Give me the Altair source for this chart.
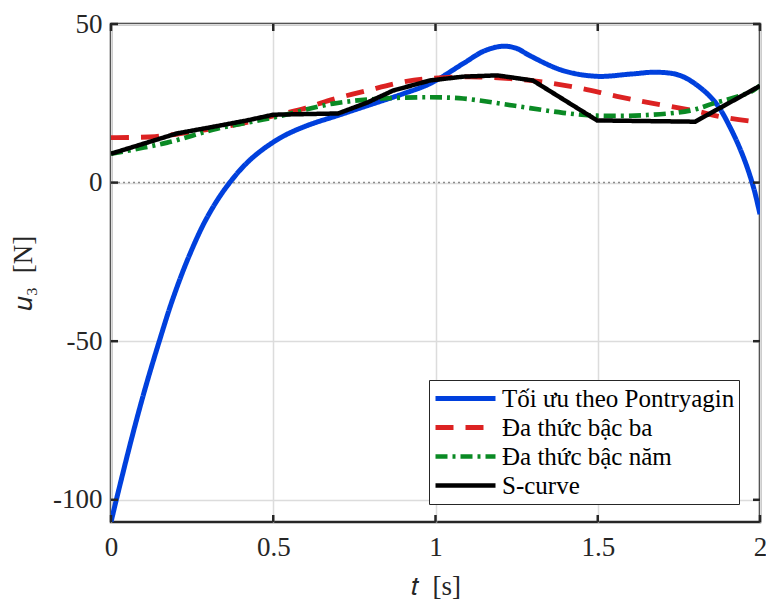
import altair as alt
import pandas as pd

# ---- data ----
series_names = ["Tối ưu theo Pontryagin", "Đa thức bậc ba", "Đa thức bậc năm", "S-curve"]

blue_t = [0, 0.02, 0.064, 0.105, 0.15, 0.19, 0.24, 0.295, 0.357, 0.43, 0.52, 0.6, 0.7, 0.8,
          0.9, 0.983, 1.085, 1.15, 1.208, 1.25, 1.291, 1.393, 1.498, 1.6, 1.683, 1.753,
          1.815, 1.866, 1.908, 1.949, 1.98, 2.0]
blue_u = [-107, -98.5, -80.5, -65, -49.6, -36.8, -23.3, -11.2, -1.2, 7.3, 14, 17.8, 21.2,
          24.6, 28, 31.2, 37.5, 41.5, 43, 42.3, 40, 35.3, 33.5, 34.2, 34.8, 33.8,
          30, 24.8, 17.4, 8, -1.5, -10]

red_t = [0, 0.136, 0.274, 0.4, 0.5, 0.6, 0.675, 0.789, 0.89, 0.977, 1.137, 1.291, 1.436,
         1.559, 1.67, 1.806, 1.877, 2.0]
red_u = [14.2, 14.5, 16.4, 18.6, 21, 23.5, 26, 29, 31.5, 32.8, 33.3, 32.2, 30,
         27.2, 25, 22.5, 20.8, 19]

green_t = [0, 0.173, 0.327, 0.5, 0.684, 0.838, 0.983, 1.085, 1.239, 1.393, 1.498, 1.652,
           1.784, 1.855, 1.969, 2.0]
green_u = [9.1, 12.6, 17, 20.5, 24.9, 26.5, 26.9, 26.5, 24.3, 22, 21.1, 21.3,
           22.7, 24.9, 28.5, 30.6]

black_t = [0, 0.203, 0.305, 0.419, 0.5, 0.7, 0.789, 0.869, 0.983, 1.085, 1.19, 1.3, 1.498,
           1.8, 2.0]
black_u = [9.1, 15.5, 17.4, 19.6, 21.4, 21.8, 25.2, 29, 32.2, 33.4, 33.8, 32.2, 19.6,
           19.2, 30.5]

x_ticks = [0, 0.5, 1, 1.5, 2]
y_ticks = [-100, -50, 0, 50]

colors = ["#0040dd", "#dc2222", "#0a8a24", "#000000"]
dashes = [[1, 0], [18, 12], [12, 5, 3, 5], [1, 0]]
widths = [5, 4.5, 4.5, 3.5]
interps = ["catmull-rom", "catmull-rom", "catmull-rom", "linear"]

W, H = 649, 498
FONT = "Liberation Serif"
INK = "#262626"

frames = []
for name, ts, us in zip(series_names, [blue_t, red_t, green_t, black_t],
                        [blue_u, red_u, green_u, black_u]):
    frames.append(pd.DataFrame({"series": name, "t": ts, "u": us}))
df = pd.concat(frames, ignore_index=True)

xscale = alt.Scale(domain=[0, 2], nice=False, zero=False)
yscale = alt.Scale(domain=[-107, 50], nice=False, zero=False)

legend = alt.Legend(
    title=None, orient="none", legendX=318, legendY=356,
    symbolType="stroke", symbolSize=3600, labelFont=FONT, labelFontSize=25,
    labelColor="#000000", labelLimit=400, fillColor="white", strokeColor="#262626",
    padding=4, rowPadding=0, clipHeight=29, symbolOffset=0, labelOffset=4,
)

color_enc = alt.Color("series:N", scale=alt.Scale(domain=series_names, range=colors), legend=legend)
dash_enc = alt.StrokeDash("series:N", scale=alt.Scale(domain=series_names, range=dashes), legend=legend)
width_enc = alt.StrokeWidth("series:N", scale=alt.Scale(domain=series_names, range=widths), legend=legend)

xaxis = alt.Axis(values=x_ticks, labelExpr="toString(datum.value)", grid=True,
                 gridColor="#dcdcdc", gridWidth=1.5, domain=False, ticks=False,
                 labelFlush=False, labelOverlap=False,
                 labelFont=FONT, labelFontSize=27, labelColor=INK, labelPadding=12,
                 title="𝑡\u2002[s]", titleFont=FONT, titleFontSize=27, titleFontWeight="normal",
                 titleColor=INK, titlePadding=13)
yaxis = alt.Axis(values=y_ticks, labelExpr="replace(datum.label, '−', '-')", grid=True,
                 gridColor="#dcdcdc", gridWidth=1.5, domain=False, ticks=False,
                 labelFlush=False, labelOverlap=False,
                 labelFont=FONT, labelFontSize=27, labelColor=INK, labelPadding=9,
                 title="𝑢₃\u2002[N]", titleFont=FONT, titleFontSize=27, titleFontWeight="normal",
                 titleColor=INK, titlePadding=15)

base_axes = alt.Chart(pd.DataFrame({"t": [0, 2], "u": [-107, 50]})).mark_point(opacity=0).encode(
    x=alt.X("t:Q", scale=xscale, axis=xaxis),
    y=alt.Y("u:Q", scale=yscale, axis=yaxis),
)

zero_line = alt.Chart(pd.DataFrame({"z": [0]})).mark_rule(
    color="#8c8c8c", strokeDash=[2, 3], strokeWidth=1.5
).encode(y=alt.Y("z:Q", scale=yscale))

layers = [base_axes, zero_line]
for i, name in enumerate(series_names):
    layers.append(
        alt.Chart(df[df.series == name]).mark_line(interpolate=interps[i], clip=True).encode(
            x=alt.X("t:Q", scale=xscale),
            y=alt.Y("u:Q", scale=yscale),
            color=color_enc, strokeDash=dash_enc, strokeWidth=width_enc,
            order="t:Q",
        )
    )

xt = pd.DataFrame({"v": x_ticks})
yt = pd.DataFrame({"v": y_ticks})
tick_style = dict(color=INK, strokeWidth=2.5)
layers += [
    alt.Chart(xt).mark_rule(**tick_style).encode(x=alt.X("v:Q", scale=xscale), y=alt.value(H), y2=alt.value(H - 7)),
    alt.Chart(xt).mark_rule(**tick_style).encode(x=alt.X("v:Q", scale=xscale), y=alt.value(0), y2=alt.value(7)),
    alt.Chart(yt).mark_rule(**tick_style).encode(y=alt.Y("v:Q", scale=yscale), x=alt.value(0), x2=alt.value(7)),
    alt.Chart(yt).mark_rule(**tick_style).encode(y=alt.Y("v:Q", scale=yscale), x=alt.value(W), x2=alt.value(W - 7)),
]

chart = alt.layer(*layers).properties(
    width=W, height=H,
    autosize=alt.AutoSizeParams(type="none"),
    padding={"left": 111, "top": 24, "right": 6, "bottom": 82},
    background="white",
).configure_view(stroke=INK, strokeWidth=2.5)

chart.save("out.html", embed_options={"renderer": "svg", "actions": False})
